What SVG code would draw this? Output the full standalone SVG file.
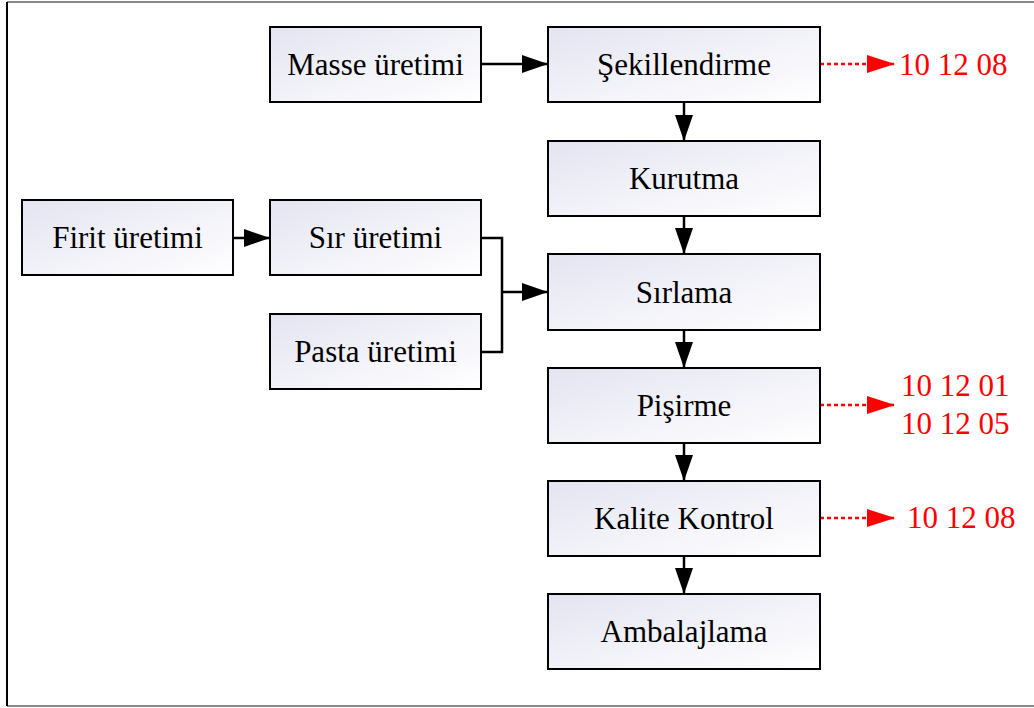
<svg xmlns="http://www.w3.org/2000/svg" width="1034" height="708" viewBox="0 0 1034 708">
<defs>
<linearGradient id="g" x1="0" y1="0" x2="1" y2="1">
<stop offset="0" stop-color="#e4e4f2"/>
<stop offset="1" stop-color="#ffffff"/>
</linearGradient>
<marker id="ah" markerWidth="26" markerHeight="18" refX="26" refY="9" orient="auto" markerUnits="userSpaceOnUse">
<path d="M0,0 L26,9 L0,18 Z" fill="#000"/>
</marker>
<marker id="ahr" markerWidth="28" markerHeight="18" refX="28" refY="9" orient="auto" markerUnits="userSpaceOnUse">
<path d="M0,0 L28,9 L0,18 Z" fill="#ff0000"/>
</marker>
</defs>
<style>
.box{fill:url(#g);stroke:#000;stroke-width:2}
.lbl{font-size:31px;fill:#000;text-anchor:middle}
.red{font-size:31px;fill:#ff0000}
.ln{stroke:#000;stroke-width:2.5;fill:none}
.dl{stroke:#ff0000;stroke-width:2.5;fill:none;stroke-dasharray:4 3}
</style>
<rect x="0" y="0" width="1034" height="708" fill="#fff"/>
<line x1="7" y1="2" x2="1034" y2="2" stroke="#888" stroke-width="2"/>
<line x1="7" y1="706" x2="1034" y2="706" stroke="#888" stroke-width="2"/>
<line x1="7" y1="2" x2="7" y2="706" stroke="#000" stroke-width="2"/>

<g id="connectors">
<line class="ln" x1="481" y1="64" x2="548" y2="64" marker-end="url(#ah)"/>
<line class="ln" x1="233" y1="238" x2="270" y2="238" marker-end="url(#ah)"/>
<polyline class="ln" points="481,238 502,238 502,352 481,352"/>
<line class="ln" x1="502" y1="292" x2="548" y2="292" marker-end="url(#ah)"/>
<line class="ln" x1="684" y1="102" x2="684" y2="141" marker-end="url(#ah)"/>
<line class="ln" x1="684" y1="216" x2="684" y2="254" marker-end="url(#ah)"/>
<line class="ln" x1="684" y1="330" x2="684" y2="368" marker-end="url(#ah)"/>
<line class="ln" x1="684" y1="443" x2="684" y2="481" marker-end="url(#ah)"/>
<line class="ln" x1="684" y1="556" x2="684" y2="594" marker-end="url(#ah)"/>
<line class="dl" x1="820" y1="64" x2="895" y2="64" marker-end="url(#ahr)"/>
<line class="dl" x1="820" y1="405" x2="895" y2="405" marker-end="url(#ahr)"/>
<line class="dl" x1="820" y1="518" x2="895" y2="518" marker-end="url(#ahr)"/>
</g>

<g font-family="Liberation Serif, DejaVu Serif, serif">
<g id="masse"><rect class="box" x="270" y="27" width="211" height="75"/><text class="lbl" x="375.5" y="75">Masse üretimi</text></g>
<g id="sekillendirme"><rect class="box" x="548" y="27" width="272" height="75"/><text class="lbl" x="684" y="75">Şekillendirme</text></g>
<g id="kurutma"><rect class="box" x="548" y="141" width="272" height="75"/><text class="lbl" x="684" y="189">Kurutma</text></g>
<g id="firit"><rect class="box" x="22" y="200" width="211" height="75"/><text class="lbl" x="127.5" y="248">Firit üretimi</text></g>
<g id="sir"><rect class="box" x="270" y="200" width="211" height="75"/><text class="lbl" x="375.5" y="248">Sır üretimi</text></g>
<g id="sirlama"><rect class="box" x="548" y="254" width="272" height="76"/><text class="lbl" x="684" y="303">Sırlama</text></g>
<g id="pasta"><rect class="box" x="270" y="314" width="211" height="75"/><text class="lbl" x="375.5" y="362">Pasta üretimi</text></g>
<g id="pisirme"><rect class="box" x="548" y="368" width="272" height="75"/><text class="lbl" x="684" y="416">Pişirme</text></g>
<g id="kalite"><rect class="box" x="548" y="481" width="272" height="75"/><text class="lbl" x="684" y="529">Kalite Kontrol</text></g>
<g id="ambalajlama"><rect class="box" x="548" y="594" width="272" height="75"/><text class="lbl" x="684" y="642">Ambalajlama</text></g>

<g id="codes">
<text class="red" x="899" y="75">10 12 08</text>
<text class="red" x="901" y="396">10 12 01</text>
<text class="red" x="901" y="434">10 12 05</text>
<text class="red" x="907" y="528">10 12 08</text>
</g>
</g>
</svg>
